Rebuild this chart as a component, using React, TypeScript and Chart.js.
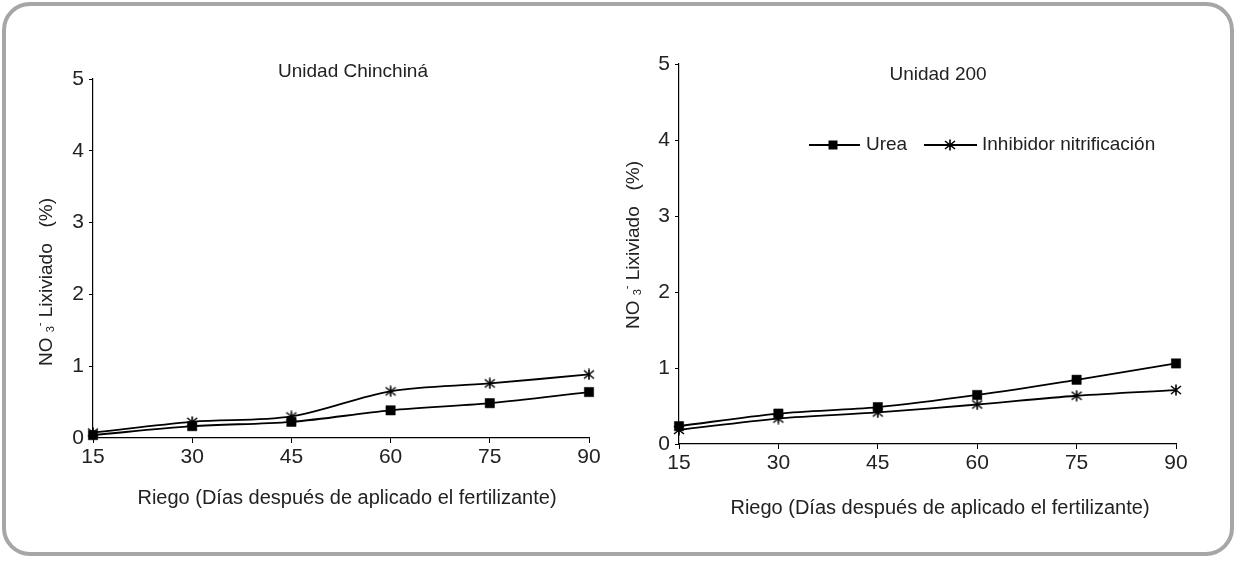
import React, { useEffect, useRef } from "react";
import { Chart, registerables } from "chart.js";

Chart.register(...registerables);

// ---------- data ----------
const dias = ["15", "30", "45", "60", "75", "90"];
const seriesNames = ["Urea", "Inhibidor nitrificación"];

const chinchinaUrea = [0.04, 0.165, 0.225, 0.385, 0.485, 0.64];
const chinchinaInhibidor = [0.075, 0.225, 0.3, 0.65, 0.76, 0.885];

const u200Urea = [0.235, 0.4, 0.485, 0.645, 0.845, 1.06];
const u200Inhibidor = [0.185, 0.335, 0.415, 0.52, 0.635, 0.71];

const yTicksMin = 0;
const yTicksMax = 5;
const yStep = 1;

const titleLeft = "Unidad Chinchiná";
const titleRight = "Unidad 200";
const xTitle = "Riego (Días después de aplicado el fertilizante)";

// ---------- styling ----------
const FONT = '"Liberation Sans", Arial, sans-serif';
const TEXT = "#222";

function makeStar(): HTMLCanvasElement {
  const c = document.createElement("canvas");
  const s = 12;
  c.width = s;
  c.height = s;
  const g = c.getContext("2d")!;
  g.strokeStyle = "#000";
  g.lineWidth = 1.6;
  g.beginPath();
  g.moveTo(s / 2, 0.5);
  g.lineTo(s / 2, s - 0.5);
  g.moveTo(1, 2);
  g.lineTo(s - 1, s - 2);
  g.moveTo(s - 1, 2);
  g.lineTo(1, s - 2);
  g.stroke();
  return c;
}

function drawYTitle(ctx: CanvasRenderingContext2D, cx: number, cy: number) {
  const big = `19px ${FONT}`;
  const small = `11px ${FONT}`;
  const parts = [
    { t: "NO", f: big, dy: 0 },
    { t: " ", f: big, dy: 0 },
    { t: "3", f: small, dy: 4 },
    { t: "-", f: small, dy: -7 },
    { t: " Lixiviado", f: big, dy: 0 },
    { t: "   ", f: big, dy: 0 },
    { t: "(%)", f: big, dy: 0 },
  ];
  ctx.save();
  ctx.translate(cx, cy);
  ctx.rotate(-Math.PI / 2);
  ctx.fillStyle = TEXT;
  ctx.textBaseline = "middle";
  ctx.textAlign = "left";
  let total = 0;
  for (const p of parts) {
    ctx.font = p.f;
    total += ctx.measureText(p.t).width;
  }
  let x = -total / 2;
  for (const p of parts) {
    ctx.font = p.f;
    ctx.fillText(p.t, x, p.dy);
    x += ctx.measureText(p.t).width;
  }
  ctx.restore();
}

interface Layout {
  width: number;
  padding: { left: number; right: number; top: number; bottom: number };
  title: string;
  titlePos: [number, number];
  xTitlePos: [number, number];
  yTitlePos: [number, number];
  legend?: { y: number; items: { x1: number; x2: number; mx: number; tx: number }[] };
}

function textPlugin(L: Layout, squareSize: number, star: HTMLCanvasElement) {
  return {
    id: "texts",
    afterDraw(chart: any) {
      const ctx: CanvasRenderingContext2D = chart.ctx;
      ctx.save();
      ctx.fillStyle = TEXT;
      ctx.textBaseline = "middle";
      ctx.textAlign = "center";
      ctx.font = `19px ${FONT}`;
      ctx.fillText(L.title, L.titlePos[0], L.titlePos[1]);
      ctx.font = `20px ${FONT}`;
      ctx.fillText(xTitle, L.xTitlePos[0], L.xTitlePos[1]);
      drawYTitle(ctx, L.yTitlePos[0], L.yTitlePos[1]);
      if (L.legend) {
        const y = L.legend.y;
        L.legend.items.forEach((it, i) => {
          ctx.strokeStyle = "#000";
          ctx.lineWidth = 1.8;
          ctx.beginPath();
          ctx.moveTo(it.x1, y);
          ctx.lineTo(it.x2, y);
          ctx.stroke();
          if (i === 0) {
            ctx.fillStyle = "#000";
            ctx.fillRect(it.mx - squareSize / 2, y - squareSize / 2, squareSize, squareSize);
          } else {
            ctx.drawImage(star, it.mx - star.width / 2, y - star.height / 2);
          }
          ctx.fillStyle = TEXT;
          ctx.textAlign = "left";
          ctx.font = `19px ${FONT}`;
          ctx.fillText(chart.data.datasets[i].label, it.tx, y);
        });
      }
      ctx.restore();
    },
  };
}

function buildChart(canvas: HTMLCanvasElement, L: Layout, urea: number[], inhib: number[]) {
  const star = makeStar();
  return new Chart(canvas, {
    type: "line",
    data: {
      labels: dias,
      datasets: [
        {
          label: seriesNames[0],
          data: urea,
          borderColor: "#000",
          borderWidth: 1.8,
          pointStyle: "rect",
          pointRadius: 6.6,
          pointBackgroundColor: "#000",
          pointBorderColor: "#000",
          pointBorderWidth: 0.5,
          tension: 0.33,
          fill: false,
          clip: false,
        },
        {
          label: seriesNames[1],
          data: inhib,
          borderColor: "#000",
          borderWidth: 1.8,
          pointStyle: star,
          pointRadius: 6,
          tension: 0.33,
          fill: false,
          clip: false,
        },
      ],
    },
    options: {
      responsive: false,
      animation: false,
      events: [],
      layout: { padding: L.padding },
      plugins: {
        legend: { display: false },
        tooltip: { enabled: false },
        title: { display: false },
      },
      scales: {
        x: {
          type: "category",
          offset: false,
          grid: { drawOnChartArea: false, drawTicks: true, tickLength: 5, color: "#000", lineWidth: 1 },
          border: { display: true, color: "#000", width: 1.2 },
          ticks: { color: TEXT, font: { family: FONT, size: 21 }, padding: 2, maxRotation: 0, autoSkip: false },
          afterFit: (s: any) => {
            s.height = 30;
          },
        },
        y: {
          min: yTicksMin,
          max: yTicksMax,
          grid: { drawOnChartArea: false, drawTicks: true, tickLength: 4, color: "#000", lineWidth: 1 },
          border: { display: true, color: "#000", width: 1.2 },
          ticks: { stepSize: yStep, color: TEXT, font: { family: FONT, size: 21 }, padding: 5 },
          afterFit: (s: any) => {
            s.width = 40;
          },
        },
      },
    },
    plugins: [textPlugin(L, 9, star)],
  } as any);
}

const leftLayout: Layout = {
  width: 620,
  padding: { left: 53, right: 31, top: 79, bottom: 94 },
  title: titleLeft,
  titlePos: [353, 72],
  xTitlePos: [347, 498],
  yTitlePos: [47, 282],
};

const rightLayout: Layout = {
  width: 616,
  padding: { left: 19, right: 60, top: 64, bottom: 88 },
  title: titleRight,
  titlePos: [318, 75],
  xTitlePos: [320, 508],
  yTitlePos: [14, 245],
  legend: {
    y: 145,
    items: [
      { x1: 189, x2: 240, mx: 213, tx: 246 },
      { x1: 304, x2: 357, mx: 330, tx: 362 },
    ],
  },
};

export default function App() {
  const leftRef = useRef<HTMLCanvasElement>(null);
  const rightRef = useRef<HTMLCanvasElement>(null);

  useEffect(() => {
    const a = buildChart(leftRef.current!, leftLayout, chinchinaUrea, chinchinaInhibidor);
    const b = buildChart(rightRef.current!, rightLayout, u200Urea, u200Inhibidor);
    return () => {
      a.destroy();
      b.destroy();
    };
  }, []);

  return (
    <div style={{ position: "absolute", left: 0, top: 0, width: 1236, height: 562, background: "#fff" }}>
      <div
        style={{
          position: "absolute",
          left: 2,
          top: 2,
          width: 1232,
          height: 554,
          boxSizing: "border-box",
          border: "4px solid #a6a6a6",
          borderRadius: 28,
        }}
      />
      <canvas
        ref={leftRef}
        width={620}
        height={562}
        style={{ position: "absolute", left: 0, top: 0, width: 620, height: 562 }}
      />
      <canvas
        ref={rightRef}
        width={616}
        height={562}
        style={{ position: "absolute", left: 620, top: 0, width: 616, height: 562 }}
      />
    </div>
  );
}
